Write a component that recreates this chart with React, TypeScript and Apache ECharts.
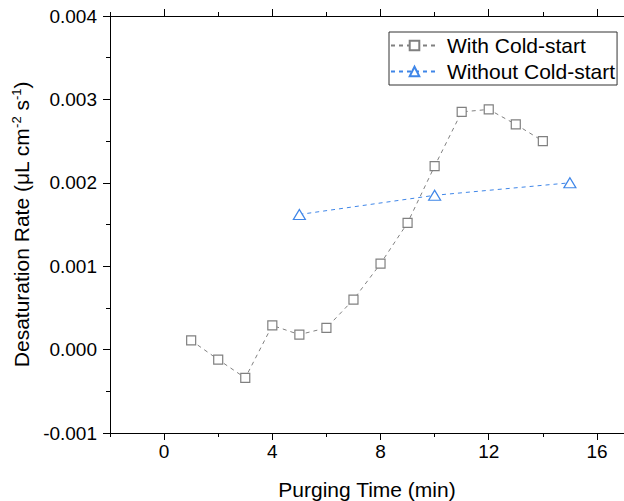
import React, { useEffect, useRef } from "react";
import * as echarts from "echarts";

const withColdX = [1, 2, 3, 4, 5, 6, 7, 8, 9, 10, 11, 12, 13, 14];
const withColdY = [0.00011, -0.00012, -0.00034, 0.00029, 0.00018, 0.00026, 0.0006, 0.00103, 0.00152, 0.0022, 0.00285, 0.00288, 0.0027, 0.0025];
const withoutColdX = [5, 10, 15];
const withoutColdY = [0.00162, 0.00185, 0.002];
const xMajorTicks = [0, 4, 8, 12, 16];
const seriesNames = ["With Cold-start", "Without Cold-start"];

const FONT = "Liberation Sans, Arial, sans-serif";

export default function App() {
  const ref = useRef<HTMLDivElement>(null);
  useEffect(() => {
    if (!ref.current) return;
    const chart = echarts.init(ref.current, null, { renderer: "svg" });
    const black = "#000";
    const baseX = {
      type: "value",
      min: -2,
      max: 17,
      splitLine: { show: false },
    };
    chart.setOption({
      animation: false,
      backgroundColor: "#fff",
      textStyle: { fontFamily: FONT },
      grid: { left: 110, top: 16, width: 514, height: 417, outerBoundsMode: "none" },
      legend: {
        orient: "vertical",
        left: 389,
        top: 32,
        borderColor: "#333",
        borderWidth: 1,
        borderRadius: 0,
        padding: [3, 2, 3, 1],
        itemGap: 5,
        itemWidth: 47,
        itemHeight: 12,
        textStyle: { fontSize: 21, color: black, fontFamily: FONT, padding: [0, 0, 0, 4] },
        data: seriesNames,
      },
      xAxis: [
        {
          ...baseX,
          position: "bottom",
          interval: 2,
          axisLine: { show: true, onZero: false, lineStyle: { color: black, width: 1 } },
          axisTick: { show: true, inside: false, length: 4, lineStyle: { color: black } },
          axisLabel: { show: false },
        },
        {
          ...baseX,
          position: "bottom",
          axisLine: { show: false, onZero: false },
          axisTick: { show: true, inside: false, length: 7, customValues: xMajorTicks, lineStyle: { color: black } },
          axisLabel: { show: true, customValues: xMajorTicks, fontSize: 19, color: black, margin: 9, fontFamily: FONT },
          name: "Purging Time (min)",
          nameLocation: "middle",
          nameGap: 46,
          nameTextStyle: { fontSize: 21, color: black, fontFamily: FONT },
        },
        {
          ...baseX,
          position: "top",
          interval: 2,
          axisLine: { show: true, onZero: false, lineStyle: { color: black, width: 1 } },
          axisTick: { show: true, inside: false, length: 4, lineStyle: { color: black } },
          axisLabel: { show: false },
        },
        {
          ...baseX,
          position: "top",
          axisLine: { show: false, onZero: false },
          axisTick: { show: true, inside: false, length: 7, customValues: xMajorTicks, lineStyle: { color: black } },
          axisLabel: { show: false },
        },
      ],
      yAxis: {
        type: "value",
        min: -0.001,
        max: 0.004,
        interval: 0.001,
        splitLine: { show: false },
        axisLine: { show: true, onZero: false, lineStyle: { color: black, width: 1 } },
        axisTick: { show: true, inside: false, length: 7, lineStyle: { color: black } },
        minorTick: { show: true, splitNumber: 2, length: 4, lineStyle: { color: black } },
        axisLabel: {
          fontSize: 19,
          color: black,
          margin: 13,
          fontFamily: FONT,
          formatter: (v: number) => v.toFixed(3),
        },
        name: "{a|Desaturation Rate (μL cm}{s|-2}{a| s}{s|-1}{a|)}",
        nameLocation: "middle",
        nameGap: 77,
        nameTextStyle: {
          color: black,
          fontFamily: FONT,
          rich: {
            a: { fontSize: 21, color: black, fontFamily: FONT },
            s: { fontSize: 13, color: black, fontFamily: FONT, padding: [0, 0, 10, 0] },
          },
        },
      },
      series: [
        {
          name: seriesNames[0],
          type: "line",
          xAxisIndex: 0,
          data: withColdX.map((x, i) => [x, withColdY[i]]),
          symbol: "rect",
          symbolSize: 9,
          itemStyle: { color: "#fff", borderColor: "#808080", borderWidth: 1.2 },
          lineStyle: { color: "#808080", width: 1, type: [4, 4] },
          color: "#808080",
        },
        {
          name: seriesNames[1],
          type: "line",
          xAxisIndex: 0,
          data: withoutColdX.map((x, i) => [x, withoutColdY[i]]),
          symbol: "triangle",
          symbolSize: [12, 10],
          itemStyle: { color: "#fff", borderColor: "#3f86e8", borderWidth: 1.2 },
          lineStyle: { color: "#3f86e8", width: 1, type: [4, 4] },
          color: "#3f86e8",
        },
      ],
    });
    return () => chart.dispose();
  }, []);
  return (
    <div
      ref={ref}
      style={{ position: "fixed", left: 0, top: 0, width: 624, height: 501, background: "#fff" }}
    />
  );
}
